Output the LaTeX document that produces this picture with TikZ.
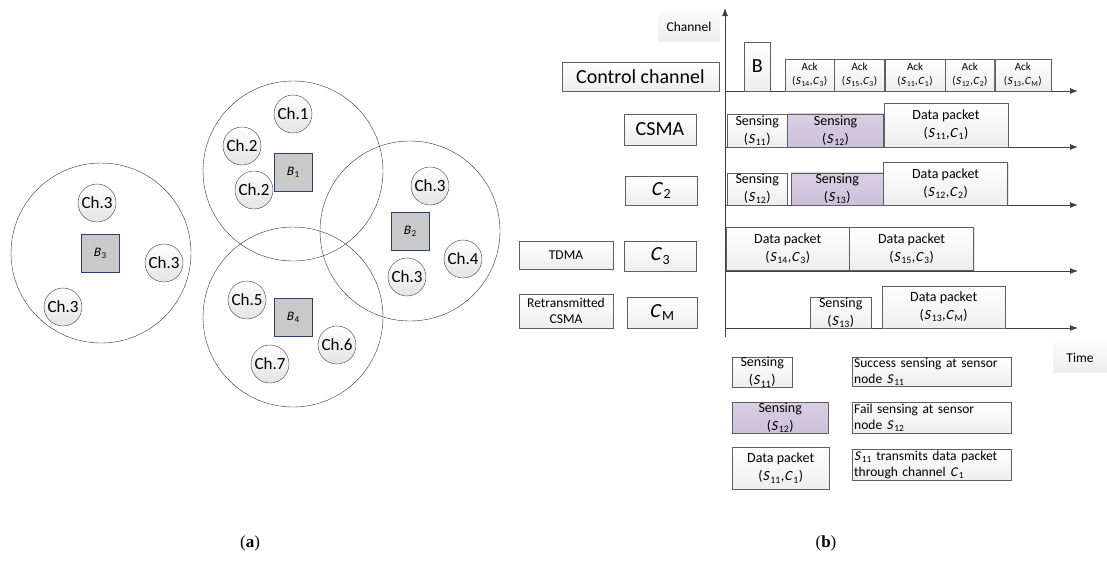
\documentclass[tikz,border=0pt]{standalone}
\usepackage{fontspec}
\setmainfont{Carlito}
\newfontfamily\slfont{Carlito}[FakeSlant=0.2]
\newfontfamily\capfont{Liberation Serif}
\usepackage{xcolor}
\usepackage{tikz}
\usetikzlibrary{shapes,arrows.meta,positioning,calc,shadows}

\definecolor{lav}{RGB}{204,192,218}
\definecolor{bnavy}{RGB}{44,62,112}
\definecolor{edge}{RGB}{95,95,95}
\definecolor{axisgray}{RGB}{64,64,64}
\newcommand{\vsub}[2]{{\slfont #1}\kern0.1em\textsubscript{#2}}
\newcommand{\fs}[2]{\fontsize{#1}{#2}\selectfont}

\begin{document}
\begin{tikzpicture}[
  x=1pt, y=-1pt,
  cell/.style={circle, draw=black!80, thin, minimum size=180, inner sep=0},
  chan/.style={circle, draw=black!75, top color=white, bottom color=gray!22, minimum size=38, inner sep=0, font=\fs{17}{20}},
  base/.style={rectangle, draw=bnavy, fill=gray!42, minimum size=38, inner sep=0, font=\fs{13}{15}},
  box/.style={rectangle, draw=edge, top color=white, bottom color=gray!14, inner sep=0, align=center, font=\fs{14}{18},
    drop shadow={shadow xshift=1.2pt, shadow yshift=-1.2pt, opacity=0.2}},
  bigbox/.style={box, font=\fs{20}{24}},
  ack/.style={box, minimum height=32, font=\fs{11}{14}, anchor=south west},
  fail/.style={box, top color=lav!75!white, bottom color=lav},
  desc/.style={box, align=left, text width=155, inner xsep=2, font=\fs{13.5}{16}, anchor=north west},
  lbl/.style={rectangle, top color=gray!4, bottom color=gray!14, minimum height=29, inner sep=0, font=\fs{13.5}{16}},
  axis/.style={draw=axisgray, line width=0.9pt, -{Latex[length=8pt,width=6pt]}}
]
\useasboundingbox (0,0) rectangle (1107,563);

% (a) cells with base stations and channels
\node[cell] (cell3) at (101,253) {};
\node[cell] (cell1) at (293,171) {};
\node[cell] (cell2) at (410,231) {};
\node[cell] (cell4) at (293,317) {};

\node[base] (b3) at (100,253) {\vsub{B}{3}};
\node[chan] (ch3a) at (97,203) {Ch.3};
\node[chan] (ch3b) at (164,263) {Ch.3};
\node[chan] (ch3c) at (63,307) {Ch.3};

\node[base] (b1) at (293,172) {\vsub{B}{1}};
\node[chan] (ch1) at (293,114) {Ch.1};
\node[chan] (ch2a) at (242,146) {Ch.2};
\node[chan] (ch2b) at (254,190) {Ch.2};

\node[base] (b2) at (410,231) {\vsub{B}{2}};
\node[chan] (ch3d) at (430,186) {Ch.3};
\node[chan] (ch4) at (463,259) {Ch.4};
\node[chan] (ch3e) at (407,277) {Ch.3};

\node[base] (b4) at (293,317) {\vsub{B}{4}};
\node[chan] (ch5) at (247,300) {Ch.5};
\node[chan] (ch6) at (337,345) {Ch.6};
\node[chan] (ch7) at (270,364) {Ch.7};

% (b) time axis and channel rows
\coordinate (o) at (725,337);
\coordinate (ytop) at (725,8);
\draw[axis] (o) -- (ytop);
\foreach \y [count=\i] in {91,147,205,271,328} {
  \coordinate (s\i) at (725,\y);
  \coordinate (e\i) at (1078,\y);
  \draw[axis] (s\i) -- (e\i);
}
\node[lbl, minimum width=62] (chl) at (689,26.5) {Channel};
\node[lbl, minimum width=54] (tml) at (1080,357.5) {Time};

\node[bigbox, minimum width=157, minimum height=29] (ctrl) at (640.5,76.5) {Control channel};
\node[bigbox, minimum width=72, minimum height=31] (csma) at (660,129.5) {CSMA};
\node[bigbox, minimum width=72, minimum height=29] (c2) at (661,190.5) {\vsub{C}{2}};
\node[bigbox, minimum width=72, minimum height=30] (c3) at (660,256) {\vsub{C}{3}};
\node[bigbox, minimum width=70, minimum height=31] (cm) at (662,312.5) {\vsub{C}{M}};
\node[box, font=\fs{13.5}{16}, minimum width=94, minimum height=28] (tdma) at (566,255) {TDMA};
\node[box, font=\fs{13.5}{16}, minimum width=94, minimum height=34] (rcsma) at (566,311) {Retransmitted\\CSMA};

% control channel
\node[bigbox, minimum width=26, minimum height=49, anchor=south west] (bcn) at (744,91) {B};
\node[ack, minimum width=49] (ack1) at (785,91) {Ack\\(\vsub{S}{14},\vsub{C}{3})};
\node[ack, minimum width=50] (ack2) at (ack1.south east) {Ack\\(\vsub{S}{15},\vsub{C}{3})};
\node[ack, minimum width=60] (ack3) at (ack2.south east) {Ack\\(\vsub{S}{11},\vsub{C}{1})};
\node[ack, minimum width=49] (ack4) at (ack3.south east) {Ack\\(\vsub{S}{12},\vsub{C}{2})};
\node[ack, minimum width=56] (ack5) at (ack4.south east) {Ack\\(\vsub{S}{13},\vsub{C}{M})};

% CSMA
\node[box, minimum width=60, minimum height=33, anchor=south west] (sen11) at (727,147) {Sensing\\(\vsub{S}{11})};
\node[fail, minimum width=96, minimum height=33, anchor=south west] (sen12) at (sen11.south east) {Sensing\\(\vsub{S}{12})};
\node[box, minimum width=124, minimum height=44, anchor=south west] (dp11) at (sen12.south east) {Data packet\\(\vsub{S}{11},\vsub{C}{1})};

% C2
\node[box, minimum width=60, minimum height=32, anchor=south west] (sen12b) at (727,205) {Sensing\\(\vsub{S}{12})};
\node[fail, minimum width=92, minimum height=32, anchor=south west] (sen13) at (791,205) {Sensing\\(\vsub{S}{13})};
\node[box, minimum width=124, minimum height=43, anchor=south west] (dp12) at (sen13.south east) {Data packet\\(\vsub{S}{12},\vsub{C}{2})};

% C3
\node[box, minimum width=123, minimum height=43, anchor=south west] (dp14) at (726,270) {Data packet\\(\vsub{S}{14},\vsub{C}{3})};
\node[box, minimum width=124, minimum height=43, anchor=south west] (dp15) at (dp14.south east) {Data packet\\(\vsub{S}{15},\vsub{C}{3})};

% CM
\node[box, minimum width=61, minimum height=31, anchor=south west] (sen13b) at (810,328) {Sensing\\(\vsub{S}{13})};
\node[box, minimum width=123, minimum height=42, anchor=south west] (dp13) at (882,328) {Data packet\\(\vsub{S}{13},\vsub{C}{M})};

% legend
\node[box, minimum width=60, minimum height=29, anchor=north west] (lg1) at (732,357) {Sensing\\(\vsub{S}{11})};
\node[fail, minimum width=96, minimum height=31, anchor=north west] (lg2) at (732,402) {Sensing\\(\vsub{S}{12})};
\node[box, minimum width=97, minimum height=42, anchor=north west] (lg3) at (732,447) {Data packet\\(\vsub{S}{11},\vsub{C}{1})};
\node[desc, minimum height=29] (ds1) at (852,357) {Success sensing at sensor\\node \vsub{S}{11}};
\node[desc, minimum height=31] (ds2) at (852,402) {Fail sensing at sensor\\node \vsub{S}{12}};
\node[desc, minimum height=31] (ds3) at (852,449) {\vsub{S}{11} transmits data packet\\through channel \vsub{C}{1}};

\node[font=\capfont\fs{17}{20}] (capa) at (250,543) {(\textbf{a})};
\node[font=\capfont\fs{17}{20}] (capb) at (826,543) {(\textbf{b})};
\end{tikzpicture}
\end{document}
